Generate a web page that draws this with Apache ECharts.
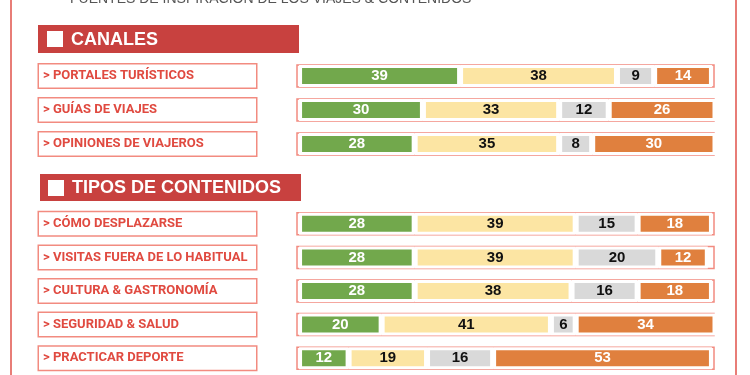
<!DOCTYPE html>
<html><head><meta charset="utf-8">
<script src="https://cdn.jsdelivr.net/npm/echarts@6/dist/echarts.min.js"></script>
<style>html,body{margin:0;padding:0;background:#fff}#c{width:750px;height:375px}</style>
</head><body><div id="c"></div>
<script>
const titleText = 'FUENTES DE INSPIRACIÓN DE LOS VIAJES & CONTENIDOS';
const headerCanales = 'CANALES';
const headerTipos = 'TIPOS DE CONTENIDOS';
const canales = ['> PORTALES TURÍSTICOS', '> GUÍAS DE VIAJES', '> OPINIONES DE VIAJEROS'];
const canalesS1 = [39, 30, 28];
const canalesS2 = [38, 33, 35];
const canalesS3 = [9, 12, 8];
const canalesS4 = [14, 26, 30];
const tipos = ['> CÓMO DESPLAZARSE', '> VISITAS FUERA DE LO HABITUAL', '> CULTURA & GASTRONOMÍA', '> SEGURIDAD & SALUD', '> PRACTICAR DEPORTE'];
const tiposS1 = [28, 28, 28, 20, 12];
const tiposS2 = [39, 39, 38, 41, 19];
const tiposS3 = [15, 20, 16, 6, 16];
const tiposS4 = [18, 12, 18, 34, 53];

const GREEN = '#72a84c', YELLOW = '#fce5a3', GRAY = '#d9d9d9', ORANGE = '#e0803e';
const BOX = '#f28b80', RED = '#c8413f', LABEL = '#e04a40';

function seg(data, gi, color, textColor, first) {
  return {
    type: 'bar', xAxisIndex: gi, yAxisIndex: gi, stack: 'g' + gi, data: data,
    barWidth: 22, silent: true,
    itemStyle: { color: color, borderColor: '#fff', borderWidth: 3 },
    label: { show: true, position: 'inside', color: textColor, fontWeight: 'bold', fontSize: 15,
      fontFamily: 'Liberation Sans, Arial, sans-serif' },
    showBackground: first,
    backgroundStyle: { color: '#fff', borderColor: BOX, borderWidth: 1.5 }
  };
}
function yAx(gi, data) {
  return {
    type: 'category', gridIndex: gi, data: data, inverse: true,
    axisLine: { show: false }, axisTick: { show: false }, splitLine: { show: false },
    axisLabel: {
      interval: 0, align: 'left', margin: 258, color: LABEL, fontWeight: 'bold', fontSize: 13,
      fontFamily: 'Roboto, sans-serif',
      backgroundColor: '#fff', borderColor: BOX, borderWidth: 1.5,
      width: 213, height: 23, lineHeight: 23, padding: [0, 0, 0, 4]
    }
  };
}
function xAx(gi) {
  return { type: 'value', gridIndex: gi, min: -0.5, max: 100.5, show: false };
}
function header(x, y, w, h, text, sq) {
  return [
    { type: 'rect', shape: { x: x, y: y, width: w, height: h }, style: { fill: RED } },
    { type: 'rect', shape: { x: sq[0], y: sq[1], width: 16, height: 16 }, style: { fill: '#fff' } },
    { type: 'text', x: sq[0] + 24, y: y + h / 2 + 1, style: { text: text, fill: '#fff', fontSize: 18, fontWeight: 'bold',
      fontFamily: 'Liberation Sans, Arial, sans-serif', verticalAlign: 'middle' } }
  ];
}

const chart = echarts.init(document.getElementById('c'), null, { renderer: 'canvas' });
chart.setOption({
  animation: false,
  backgroundColor: '#fff',
  grid: [
    { left: 297, width: 417, top: 59, height: 102 },
    { left: 297, width: 417, top: 207, height: 172 }
  ],
  xAxis: [xAx(0), xAx(1)],
  yAxis: [yAx(0, canales), yAx(1, tipos)],
  series: [
    seg(canalesS1, 0, GREEN, '#fff', true),
    seg(canalesS2, 0, YELLOW, '#111', false),
    seg(canalesS3, 0, GRAY, '#111', false),
    seg(canalesS4, 0, ORANGE, '#fff', false),
    seg(tiposS1, 1, GREEN, '#fff', true),
    seg(tiposS2, 1, YELLOW, '#111', false),
    seg(tiposS3, 1, GRAY, '#111', false),
    seg(tiposS4, 1, ORANGE, '#fff', false)
  ],
  graphic: [
    { type: 'line', shape: { x1: 11, y1: -10, x2: 11, y2: 390 }, style: { stroke: '#e0524a', lineWidth: 1.5 } },
    { type: 'line', shape: { x1: 736, y1: -10, x2: 736, y2: 390 }, style: { stroke: '#e0524a', lineWidth: 1.5 } },
    { type: 'text', x: 70, y: 6, style: { text: titleText, fill: '#555', fontSize: 14,
      fontFamily: 'Liberation Sans, sans-serif', verticalAlign: 'bottom' } }
  ].concat(header(38, 25, 261, 28, headerCanales, [47, 31]))
   .concat(header(40, 174, 261, 27, headerTipos, [48, 180]))
});
</script></body></html>
